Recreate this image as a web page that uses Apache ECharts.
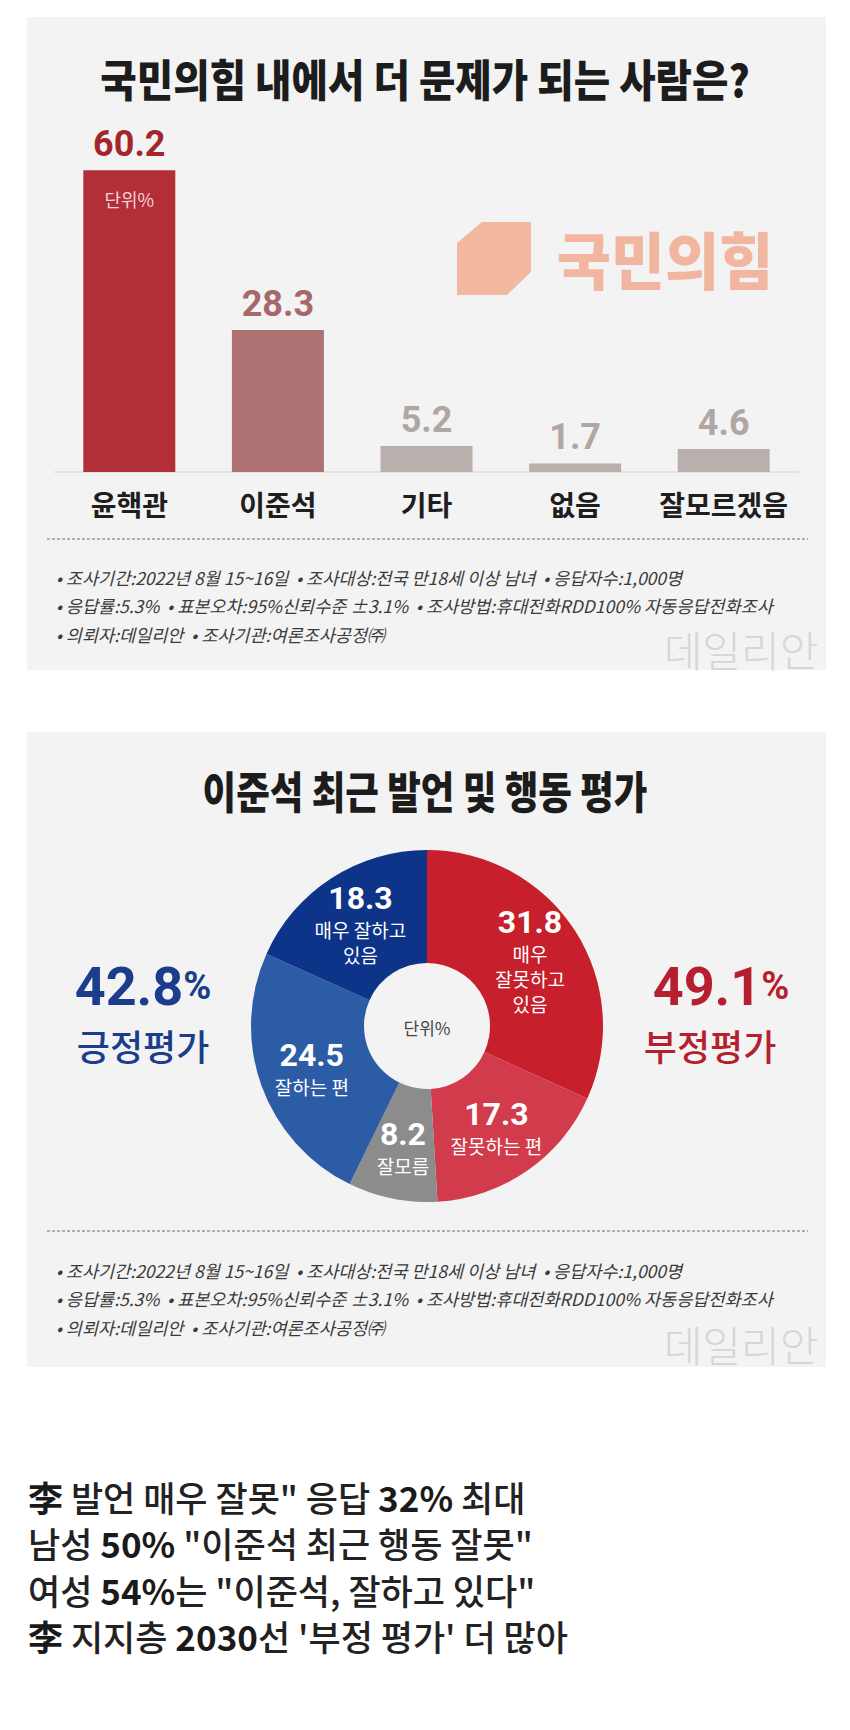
<!DOCTYPE html>
<html>
<head>
<meta charset="utf-8">
<script src="https://cdn.jsdelivr.net/npm/echarts@6/dist/echarts.min.js"></script>
<style>
  html, body { margin: 0; padding: 0; background: #ffffff; }
  #chart { width: 850px; height: 1730px; }
</style>
</head>
<body>
<div id="chart"></div>
<script>
// ---------- data ----------
const title1 = '국민의힘 내에서 더 문제가 되는 사람은?';
const barCategories = ['윤핵관', '이준석', '기타', '없음', '잘모르겠음'];
const barValues = [60.2, 28.3, 5.2, 1.7, 4.6];
const unitLabel = '단위%';

const title2 = '이준석 최근 발언 및 행동 평가';
const pieNames = ['매우\n잘못하고\n있음', '잘못하는 편', '잘모름', '잘하는 편', '매우 잘하고\n있음'];
const pieValues = [31.8, 17.3, 8.2, 24.5, 18.3];
const positiveTotal = '42.8';
const positiveLabel = '긍정평가';
const negativeTotal = '49.1';
const negativeLabel = '부정평가';

const footnotes = [
  '• 조사기간:2022년 8월 15~16일  • 조사대상:전국 만18세 이상 남녀  • 응답자수:1,000명',
  '• 응답률:5.3%  • 표본오차:95%신뢰수준 ±3.1%  • 조사방법:휴대전화RDD100% 자동응답전화조사',
  '• 의뢰자:데일리안  • 조사기관:여론조사공정㈜'
];
const watermark = '데일리안';
const logoText = '국민의힘';
const headlines = [
  '{b|李} 발언 매우 잘못" 응답 {b|32%} 최대',
  '남성 {b|50%} "이준석 최근 행동 잘못"',
  '여성 {b|54%}는 "이준석, 잘하고 있다"',
  '{b|李} 지지층 {b|2030}선 \'부정 평가\' 더 많아'
];

// ---------- styles ----------
const KR = '"Noto Sans CJK KR", "Noto Sans", sans-serif';
const NUM = 'Roboto, "Noto Sans CJK KR", sans-serif';
const barColors = ['#b32f38', '#ae7273', '#b9afad', '#b9afad', '#b9afad'];
const barLabelColors = ['#a3262c', '#a7686b', '#b0a6a4', '#b0a6a4', '#b0a6a4'];
const pieColors = ['#c71f2b', '#d13b4b', '#8c8c8c', '#2d5ca7', '#0d3488'];

const chart = echarts.init(document.getElementById('chart'), null, { renderer: 'svg', width: 850, height: 1730 });

function footnoteTexts(yStart) {
  return footnotes.map((t, i) => ({
    type: 'text', x: 56, y: yStart + i * 28.5, z: 1,
    style: { text: t, fontSize: 17.5, fontStyle: 'italic', fill: '#3a3a3a', fontFamily: KR, verticalAlign: 'middle', align: 'left' }
  }));
}

const graphics = [
  // panels
  { type: 'rect', shape: { x: 27, y: 17, width: 799, height: 653 }, style: { fill: '#f3f3f3' }, z: 0, silent: true },
  { type: 'rect', shape: { x: 27, y: 732, width: 799, height: 635 }, style: { fill: '#f3f3f3' }, z: 0, silent: true },
  // title 1
  { type: 'text', x: 425, y: 78, scaleX: 0.9, z: 1,
    style: { text: title1, fontSize: 44, fontWeight: 900, fill: '#1c1c1c', fontFamily: KR, align: 'center', verticalAlign: 'middle' } },
  // logo
  { type: 'polygon', z: 1, shape: { points: [[482, 222], [531, 222], [531, 272], [507, 295], [457, 295], [457, 243]] }, style: { fill: '#f2b9a0' } },
  { type: 'text', x: 665, y: 258, scaleX: 0.95, z: 1,
    style: { text: logoText, fontSize: 62, fontWeight: 900, fill: '#f2b6a0', fontFamily: KR, align: 'center', verticalAlign: 'middle' } },
  // dashed line 1
  { type: 'line', z: 1, shape: { x1: 47, y1: 539, x2: 808, y2: 539 }, style: { stroke: '#9a9a9a', lineWidth: 1.5, lineDash: [3, 2] } },
  ...footnoteTexts(577),
  { type: 'text', x: 741, y: 648, z: 1,
    style: { text: watermark, fontSize: 42, fontWeight: 300, fill: '#d6d6d6', fontFamily: KR, align: 'center', verticalAlign: 'middle' } },
  // title 2
  { type: 'text', x: 425, y: 790, scaleX: 0.83, z: 1,
    style: { text: title2, fontSize: 44, fontWeight: 900, fill: '#1c1c1c', fontFamily: KR, align: 'center', verticalAlign: 'middle' } },
  // pie side labels
  { type: 'text', x: 143, y: 986, z: 1,
    style: { text: '{n|' + positiveTotal + '}{p|%}', align: 'center', verticalAlign: 'middle',
      rich: { n: { fontSize: 54, fontWeight: 'bold', fill: '#1b3d8c', fontFamily: NUM }, p: { fontSize: 38, fontWeight: 'bold', fill: '#1b3d8c', fontFamily: NUM } } } },
  { type: 'text', x: 143, y: 1045, z: 1,
    style: { text: positiveLabel, fontSize: 36, fontWeight: 500, fill: '#1b3d8c', fontFamily: KR, align: 'center', verticalAlign: 'middle' } },
  { type: 'text', x: 721, y: 986, z: 1,
    style: { text: '{n|' + negativeTotal + '}{p|%}', align: 'center', verticalAlign: 'middle',
      rich: { n: { fontSize: 54, fontWeight: 'bold', fill: '#b61f2d', fontFamily: NUM }, p: { fontSize: 38, fontWeight: 'bold', fill: '#b61f2d', fontFamily: NUM } } } },
  { type: 'text', x: 710, y: 1045, z: 1,
    style: { text: negativeLabel, fontSize: 36, fontWeight: 500, fill: '#b61f2d', fontFamily: KR, align: 'center', verticalAlign: 'middle' } },
  { type: 'text', x: 427, y: 1027, z: 10,
    style: { text: unitLabel, fontSize: 17, fill: '#444', fontFamily: KR, align: 'center', verticalAlign: 'middle' } },
  // dashed line 2
  { type: 'line', z: 1, shape: { x1: 47, y1: 1231, x2: 808, y2: 1231 }, style: { stroke: '#9a9a9a', lineWidth: 1.5, lineDash: [3, 2] } },
  ...footnoteTexts(1270),
  { type: 'text', x: 741, y: 1343, z: 1,
    style: { text: watermark, fontSize: 42, fontWeight: 300, fill: '#d6d6d6', fontFamily: KR, align: 'center', verticalAlign: 'middle' } },
  // headlines
  ...headlines.map((t, i) => ({
    type: 'text', x: 28, y: 1496 + i * 46.5, z: 1,
    style: { text: t, fontSize: 35, fontWeight: 500, fill: '#222', fontFamily: KR, align: 'left', verticalAlign: 'middle',
      rich: { b: { fontSize: 35, fontWeight: 'bold', fill: '#1a1a1a', fontFamily: KR } } }
  }))
];

const option = {
  backgroundColor: '#ffffff',
  animation: false,
  graphic: { elements: graphics },
  grid: { left: 55, width: 743, top: 121, height: 351, containLabel: false },
  xAxis: {
    type: 'category', data: barCategories,
    axisLine: { show: true, lineStyle: { color: '#e2e2e2', width: 2 } },
    axisTick: { show: false },
    axisLabel: { interval: 0, margin: 18, fontSize: 28, fontWeight: 'bold', color: '#1e1e1e', fontFamily: KR }
  },
  yAxis: { type: 'value', min: 0, max: 70, show: false, splitLine: { show: false } },
  series: [
    {
      type: 'bar', z: 3,
      barWidth: 92,
      data: barValues.map((v, i) => ({
        value: v,
        itemStyle: { color: barColors[i] },
        label: { color: barLabelColors[i] }
      })),
      label: {
        show: true, position: 'top', distance: 8,
        fontSize: 36, fontWeight: 'bold', fontFamily: NUM,
        formatter: p => p.value.toFixed(1)
      },
      markPoint: {
        symbol: 'circle', symbolSize: 0,
        data: [{ coord: [barCategories[0], barValues[0]], value: unitLabel }],
        label: { show: true, formatter: unitLabel, offset: [0, 29], color: '#f6d2d2', fontSize: 18, fontFamily: KR }
      }
    },
    {
      type: 'pie', z: 3,
      center: [427, 1026], radius: [63, 176],
      startAngle: 90, clockwise: true,
      silent: true,
      data: pieValues.map((v, i) => ({ value: v, name: pieNames[i], itemStyle: { color: pieColors[i] } })),
      labelLine: { show: false },
      label: {
        show: true, position: 'inside',
        formatter: p => '{v|' + p.value.toFixed(1) + '}\n{t|' + p.name + '}',
        rich: {
          v: { fontSize: 32, fontWeight: 'bold', color: '#ffffff', fontFamily: NUM, lineHeight: 38, align: 'center' },
          t: { fontSize: 19, color: '#ffffff', fontFamily: KR, lineHeight: 25, align: 'center' }
        }
      }
    }
  ]
};
chart.setOption(option);
</script>
</body>
</html>
